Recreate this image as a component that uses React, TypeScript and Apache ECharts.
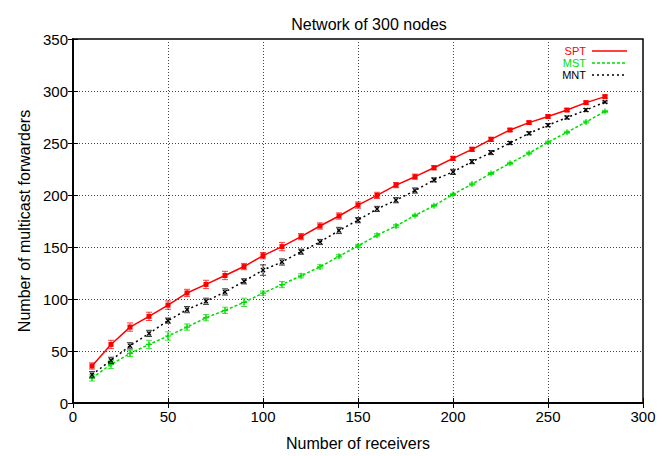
import React, { useEffect, useRef } from "react";
import * as echarts from "echarts";

const receivers = [10, 20, 30, 40, 50, 60, 70, 80, 90, 100, 110, 120, 130, 140, 150, 160, 170, 180, 190, 200, 210, 220, 230, 240, 250, 260, 270, 280];
const sptValues = [35.6, 56.3, 73, 83.3, 94.1, 105.8, 114, 122.6, 131.2, 141.7, 150.4, 160, 170.2, 179.8, 190.3, 199.6, 209.5, 217.6, 226.2, 235.2, 243.9, 253.5, 262.5, 269.6, 275.5, 281.7, 288.8, 294.6];
const sptErrors = [3, 4, 4, 4, 4, 3.5, 4, 4, 3, 3, 4, 3, 3, 3, 3, 3, 2.5, 2.5, 2, 2, 2, 2, 1.5, 1.5, 1.5, 1.5, 1.5, 1.5];
const mstValues = [24.1, 37.1, 47.7, 56.3, 64.4, 73, 82, 89.1, 96.8, 105.6, 113.9, 122.3, 130.9, 141.1, 151, 161.3, 170.2, 180.4, 189.7, 200.6, 210.5, 220.7, 230.5, 240.2, 250.7, 260.3, 270.2, 280.4];
const mstErrors = [3, 4, 3, 4, 4, 3, 3, 3, 4, 2, 3, 2, 2, 1.5, 1.5, 1.5, 1.5, 1, 1, 1, 1, 1, 1, 1, 1, 1, 1, 1];
const mntValues = [27.2, 41, 55, 66.9, 79.2, 89.8, 97.8, 106.8, 117, 127.8, 135.6, 145.5, 154.8, 165.9, 175.8, 186.6, 195, 204.3, 214.5, 222.2, 232.1, 240.8, 250, 259.3, 267.1, 274.5, 281.7, 289.4];
const mntErrors = [3, 3, 3, 3, 2.5, 3, 3, 3, 2.5, 5, 3, 2.5, 2.5, 3, 2.5, 2.5, 2.5, 2.5, 2, 2.5, 2, 2, 1.5, 1.5, 1.5, 1.5, 1.5, 1];
const seriesNames = ["SPT", "MST", "MNT"];
const xTicks = [0, 50, 100, 150, 200, 250, 300];
const yTicks = [0, 50, 100, 150, 200, 250, 300, 350];

const RED = "#ff0000";
const GREEN = "#00dd00";
const BLACK = "#000000";
const FONT = "'Liberation Sans', Arial, sans-serif";

const PLUS = "path://M4,0H6V4H10V6H6V10H4V6H0V4H4Z";

function errorSeries(values: number[], errors: number[], color: string, z: number) {
  return {
    type: "custom",
    xAxisIndex: 0,
    yAxisIndex: 0,
    z,
    silent: true,
    data: receivers.map((x, i) => [x, values[i] - errors[i], values[i] + errors[i]]),
    renderItem: (params: any, api: any) => {
      const x = api.value(0);
      const lo = api.coord([x, api.value(1)]);
      const hi = api.coord([x, api.value(2)]);
      const w = 3;
      const style = { stroke: color, lineWidth: 1, opacity: 0.75 };
      return {
        type: "group",
        children: [
          { type: "line", shape: { x1: lo[0], y1: lo[1], x2: hi[0], y2: hi[1] }, style },
          { type: "line", shape: { x1: lo[0] - w, y1: lo[1], x2: lo[0] + w, y2: lo[1] }, style },
          { type: "line", shape: { x1: hi[0] - w, y1: hi[1], x2: hi[0] + w, y2: hi[1] }, style },
        ],
      };
    },
  };
}

export default function App() {
  const ref = useRef<HTMLDivElement>(null);
  useEffect(() => {
    if (!ref.current) return;
    const chart = echarts.init(ref.current, null, { renderer: "svg" });
    const axisCommon = {
      type: "value",
      axisLine: { show: true, lineStyle: { color: "#000", width: 1.5 } },
      axisTick: { show: true, inside: true, length: 5, lineStyle: { color: "#000" } },
    };
    const legendX = 586;
    const legendY = [51, 63, 75];
    const legendColors = [RED, GREEN, BLACK];
    const legendDash: any[] = ["solid", [3, 2], [2, 3]];
    const graphic: any[] = [];
    seriesNames.forEach((name, i) => {
      graphic.push({
        type: "text",
        x: legendX,
        y: legendY[i],
        style: {
          text: name,
          fill: legendColors[i],
          font: `11px ${FONT}`,
          lineHeight: 11,
          textAlign: "right",
          textVerticalAlign: "middle",
        },
      });
      graphic.push({
        type: "line",
        shape: { x1: 592, y1: legendY[i], x2: 627, y2: legendY[i] },
        style: { stroke: legendColors[i], lineWidth: 1.5, lineDash: legendDash[i] },
      });
    });
    chart.setOption({
      animation: false,
      backgroundColor: "#fff",
      textStyle: { fontFamily: FONT },
      title: {
        text: "Network of 300 nodes",
        left: 364,
        top: 11,
        textAlign: "center",
        textStyle: { fontSize: 16, fontWeight: "normal", color: "#000", fontFamily: FONT },
      },
      grid: { left: 73, right: 21, top: 39, bottom: 40, show: true, borderColor: "#000", borderWidth: 1.5 },
      xAxis: [
        {
          ...axisCommon,
          min: 0,
          max: 300,
          interval: 50,
          position: "bottom",
          name: "Number of receivers",
          nameLocation: "middle",
          nameGap: 32,
          nameTextStyle: { fontSize: 16, color: "#000", fontFamily: FONT },
          axisLabel: { fontSize: 15, color: "#000", margin: 6, fontFamily: FONT, formatter: (v: number) => (xTicks.includes(v) ? String(v) : "") },
          splitLine: { show: true, lineStyle: { color: "#444", type: [1, 2], width: 1 } },
        },
        {
          ...axisCommon,
          min: 0,
          max: 300,
          interval: 50,
          position: "top",
          axisLabel: { show: false },
          splitLine: { show: false },
        },
      ],
      yAxis: [
        {
          ...axisCommon,
          min: 0,
          max: 350,
          interval: 50,
          position: "left",
          name: "Number of multicast forwarders",
          nameLocation: "middle",
          nameGap: 41,
          nameTextStyle: { fontSize: 16, color: "#000", fontFamily: FONT },
          axisLabel: { fontSize: 15, color: "#000", margin: 5, fontFamily: FONT, formatter: (v: number) => (yTicks.includes(v) ? String(v) : "") },
          splitLine: { show: true, lineStyle: { color: "#444", type: [1, 2], width: 1 } },
        },
        {
          ...axisCommon,
          min: 0,
          max: 350,
          interval: 50,
          position: "right",
          axisLabel: { show: false },
          splitLine: { show: false },
        },
      ],
      graphic,
      series: [
        errorSeries(mstValues, mstErrors, GREEN, 2),
        {
          name: "MST",
          type: "line",
          data: receivers.map((x, i) => [x, mstValues[i]]),
          symbol: PLUS,
          symbolSize: 6,
          itemStyle: { color: GREEN },
          lineStyle: { color: GREEN, width: 1.5, type: [3, 2] },
          z: 3,
        },
        errorSeries(mntValues, mntErrors, BLACK, 4),
        {
          name: "MNT",
          type: "line",
          data: receivers.map((x, i) => [x, mntValues[i]]),
          symbol: PLUS,
          symbolRotate: 45,
          symbolSize: 6,
          itemStyle: { color: BLACK },
          lineStyle: { color: BLACK, width: 1.5, type: [2, 3] },
          z: 5,
        },
        errorSeries(sptValues, sptErrors, RED, 6),
        {
          name: "SPT",
          type: "line",
          data: receivers.map((x, i) => [x, sptValues[i]]),
          symbol: "rect",
          symbolSize: 5,
          itemStyle: { color: RED },
          lineStyle: { color: RED, width: 1.5 },
          z: 7,
        },
      ],
    });
    return () => chart.dispose();
  }, []);
  return <div ref={ref} style={{ width: 664, height: 456, position: "absolute", left: 0, top: 0 }} />;
}
